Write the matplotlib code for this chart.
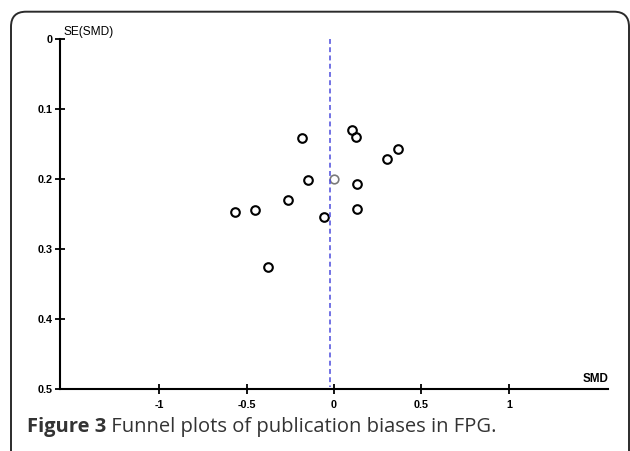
"""Funnel plot of publication bias in FPG (SE vs SMD)."""

import matplotlib

matplotlib.use("Agg")
import matplotlib.pyplot as plt
from matplotlib.patches import FancyBboxPatch

# study estimates
smd = [-0.185, -0.149, -0.261, -0.450, -0.568, -0.376, 0.105, 0.126,
       0.364, 0.305, 0.130, 0.130, -0.057]
se = [0.141, 0.201, 0.230, 0.244, 0.247, 0.325, 0.130, 0.139,
      0.157, 0.171, 0.207, 0.242, 0.254]

# faded point and pooled estimate line
grey_smd = [0.0]
grey_se = [0.199]
pooled_smd = -0.02

x_ticks = [-1, -0.5, 0, 0.5, 1]
x_tick_labels = ["-1", "-0.5", "0", "0.5", "1"]
y_ticks = [0, 0.1, 0.2, 0.3, 0.4, 0.5]
y_tick_labels = ["0", "0.1", "0.2", "0.3", "0.4", "0.5"]

caption_bold = "Figure 3"
caption_rest = " Funnel plots of publication biases in FPG."

sans = ["Liberation Sans", "DejaVu Sans"]
tick_font = {"family": sans, "size": 7.8}

fig = plt.figure(figsize=(6.3, 4.51), dpi=100)
ax = fig.add_axes([0.0952, 0.1368, 0.8704, 0.7761])

ax.plot(smd, se, linestyle="none", marker="o", markersize=6.2,
        markerfacecolor="none", markeredgecolor="black", markeredgewidth=1.5)
ax.plot(grey_smd, grey_se, linestyle="none", marker="o", markersize=6.2,
        markerfacecolor="none", markeredgecolor="#7a7a7a", markeredgewidth=1.2)
ax.plot([pooled_smd, pooled_smd], [0, 0.496], color="#4b4bdc", lw=1.1,
        dashes=(3.2, 2.2))

ax.set_xlim(-1.567, 1.569)
ax.set_ylim(0.5, 0)

for side in ("top", "right"):
    ax.spines[side].set_visible(False)
for side in ("left", "bottom"):
    ax.spines[side].set_linewidth(1.5)
    ax.spines[side].set_color("black")

ax.set_xticks(x_ticks)
ax.set_xticklabels(x_tick_labels, fontdict=tick_font, fontweight="bold")
ax.set_yticks(y_ticks)
ax.set_yticklabels(y_tick_labels, fontdict=tick_font, fontweight="bold")
ax.tick_params(axis="both", direction="inout", length=7, width=1.3, colors="black")
ax.tick_params(axis="x", pad=4)
ax.tick_params(axis="y", pad=2)

ax.annotate("SE(SMD)", xy=(0, 1), xycoords="axes fraction", xytext=(4, 1),
            textcoords="offset pixels", ha="left", va="bottom",
            fontfamily=sans, fontsize=8.6)
ax.annotate("SMD", xy=(1, 0), xycoords="axes fraction", xytext=(0, 4),
            textcoords="offset pixels", ha="right", va="bottom",
            fontfamily=sans, fontsize=8.4, fontweight="bold")

# rounded frame around the panel, running off the bottom of the image
frame = FancyBboxPatch((0.11, -0.3), 6.18, 4.693,
                       boxstyle="round,pad=0,rounding_size=0.15",
                       transform=fig.dpi_scale_trans, fill=False,
                       edgecolor="#2b2b2b", linewidth=1.4, clip_on=False)
fig.patches.append(frame)

cap_font = ["Open Sans", "DejaVu Sans"]
t1 = fig.text(0.0425, 0.043, caption_bold, fontfamily=cap_font, fontsize=14.5,
              fontweight="bold", color="#333333", ha="left", va="baseline")
renderer = fig.canvas.get_renderer()
bb = t1.get_window_extent(renderer=renderer)
fig.text(bb.x1 / fig.bbox.width, 0.043, caption_rest, fontfamily=cap_font,
         fontsize=14.5, color="#333333", ha="left", va="baseline")

fig.savefig("out.png", dpi=100)
